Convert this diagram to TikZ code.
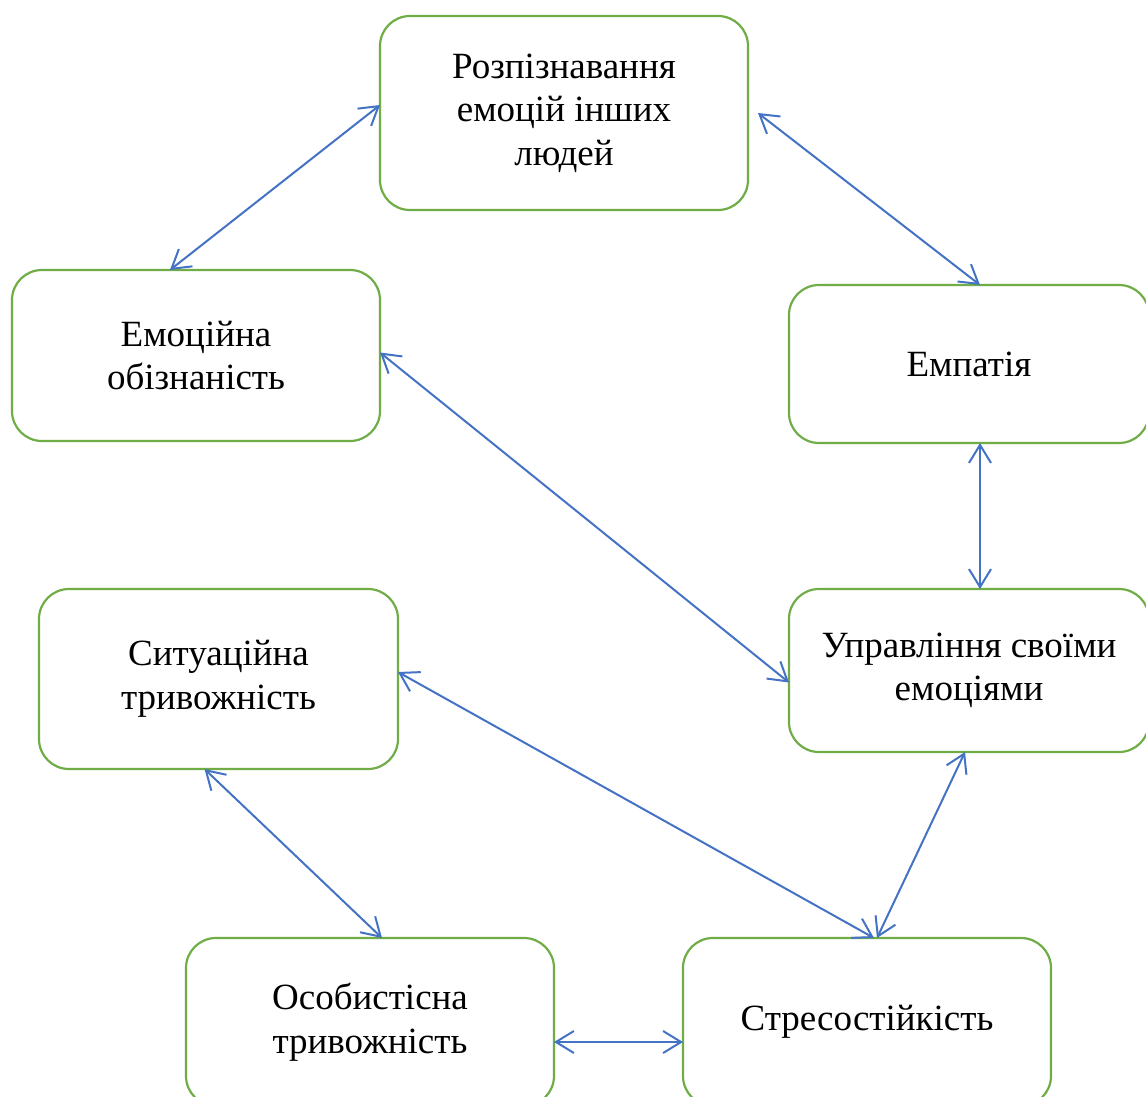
\documentclass[tikz,border=0pt]{standalone}
\usepackage{fontspec}
\setmainfont{Liberation Serif}
\usepackage{tikz}
\usetikzlibrary{positioning,arrows.meta}
\definecolor{boxgreen}{HTML}{70AD47}
\definecolor{linkblue}{HTML}{4472C4}

\begin{document}
\begin{tikzpicture}[
  x=0.5pt, y=-0.5pt,
  font=\fontsize{18.5}{21.8}\selectfont,
  block/.style={draw=boxgreen, line width=1.1pt, rounded corners=15pt, fill=white,
    align=center, inner sep=0pt, outer sep=0pt, minimum width=184pt},
  link/.style={draw=linkblue, line width=1pt},
  >={Straight Barb[length=9pt, width=11pt]}
]
\useasboundingbox (0,0) rectangle (1146,1097);
\node[block, minimum height=97pt] (rec) at (564,113) {Розпізнавання\\емоцій інших\\людей};
\node[block, minimum height=85.5pt, below left=30pt and 0pt of rec.south west] (aware) {Емоційна\\обізнаність};
\node[block, minimum width=180pt, minimum height=79pt, below right=37.5pt and 20.5pt of rec.south east] (emp) {Емпатія};
\node[block, minimum width=180pt, minimum height=81.5pt, below=73pt of emp] (manage) {Управління своїми\\емоціями};
\node[block, minimum width=179.5pt, minimum height=90pt, below left=0pt and 195.5pt of manage.north west] (situ) {Ситуаційна\\тривожність};
\node[block, minimum height=84pt, below right=84.5pt and 73.5pt of situ.south west] (pers) {Особистісна\\тривожність};
\node[block, minimum height=84pt, right=64.5pt of pers] (stress) {Стресостійкість};
\draw[link, <->] ([yshift=4pt]rec.west) -- ([xshift=-13pt]aware.north);
\draw[link, <->] ([xshift=5pt]rec.east) -- ([xshift=5.5pt]emp.north);
\draw[link, <->] ([xshift=5.5pt]emp.south) -- ([xshift=5.5pt]manage.north);
\draw[link, <->] ([yshift=1.5pt]aware.east) -- ([yshift=-6pt]manage.west);
\draw[link, <->] ([yshift=3.5pt]situ.east) -- ([xshift=3.5pt]stress.north);
\draw[link, <->] ([xshift=-2pt]manage.south) -- ([xshift=5pt]stress.north);
\draw[link, <->] ([xshift=-7pt]situ.south) -- ([xshift=6pt]pers.north);
\draw[link, <->] ([yshift=-10pt]pers.east) -- ([yshift=-10pt]stress.west);
\end{tikzpicture}
\end{document}
